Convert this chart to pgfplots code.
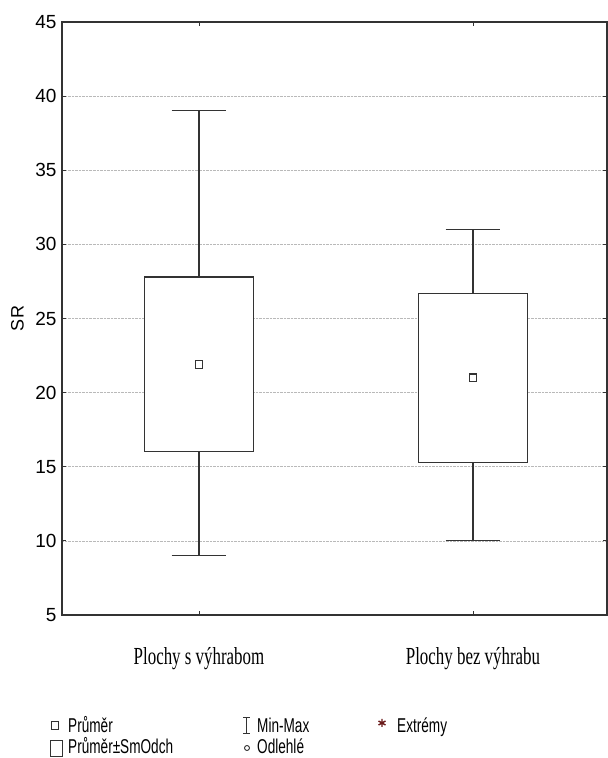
\documentclass[border=0pt]{standalone}
\usepackage{fontspec}
\setmainfont{Liberation Sans}
\newfontfamily\legfont[FakeStretch=0.68]{Liberation Sans}
\newfontfamily\catfont[FakeStretch=0.69]{Liberation Serif}
\usepackage{pgfplots}
\pgfplotsset{compat=1.18}
\definecolor{ln}{HTML}{333333}
\definecolor{ext}{HTML}{6A1A1A}
\begin{document}
\begin{tikzpicture}
\useasboundingbox (0,0) rectangle (608bp,758bp);
\begin{axis}[
  at={(62bp,143bp)}, anchor=south west,
  scale only axis, width=545bp, height=593bp,
  xmin=-0.5, xmax=1.489, ymin=5, ymax=45,
  ytick={5,10,...,45}, xtick={0,1},
  xticklabels={Plochy s výhrabom, Plochy bez výhrabu},
  tick align=inside, major tick length=4bp, tick pos=both,
  axis line style={ln, line width=1.2bp},
  every tick/.style={ln, line width=0.8bp},
  ymajorgrids, major grid style={densely dotted, gray!55, line width=0.6bp},
  /pgf/number format/assume math mode=true,
  yticklabel style={font=\fontsize{19bp}{22bp}\selectfont, xshift=-2bp},
  xticklabel style={font=\catfont\fontsize{24.5bp}{28bp}\selectfont, anchor=base, yshift=-50bp},
  ylabel={SR},
  ylabel style={font=\fontsize{18bp}{21bp}\selectfont, at={(axis description cs:-0.0817,0.5)}, anchor=center},
  wsk/.style={ln, solid, line width=1.1bp, mark=none},
]
% group 1: mean 21.9, mean-SD 16.0, mean+SD 27.8, min 9, max 39
\addplot[wsk, fill=white] coordinates {(-0.2,16.0) (0.2,16.0) (0.2,27.8) (-0.2,27.8)} -- cycle;
\addplot[wsk] coordinates {(0,27.8) (0,39)};
\addplot[wsk] coordinates {(-0.1,39) (0.1,39)};
\addplot[wsk] coordinates {(0,16.0) (0,9)};
\addplot[wsk] coordinates {(-0.1,9) (0.1,9)};
% group 2: mean 21.0, mean-SD 15.3, mean+SD 26.7, min 10, max 31
\addplot[wsk, fill=white] coordinates {(0.8,15.3) (1.2,15.3) (1.2,26.7) (0.8,26.7)} -- cycle;
\addplot[wsk] coordinates {(1,26.7) (1,31)};
\addplot[wsk] coordinates {(0.9,31) (1.1,31)};
\addplot[wsk] coordinates {(1,15.3) (1,10)};
\addplot[wsk] coordinates {(0.9,10) (1.1,10)};
% means
\addplot[only marks, mark=square, mark size=3.8bp, mark options={ln, solid, line width=1.1bp}] coordinates {(0,21.9) (1,21.0)};
\end{axis}
\begin{scope}[x=1bp,y=1bp, every node/.style={anchor=base west, inner sep=0pt, font=\legfont\fontsize{20bp}{23bp}\selectfont}]
\draw[ln, line width=0.9bp] (51.5,29) rectangle (58.5,37);
\node at (68,26) {Průměr};
\draw[ln, line width=0.9bp] (50,1.5) rectangle (62,18);
\node at (68,5) {Průměr±SmOdch};
\draw[ln, line width=0.9bp] (246.5,25)--(246.5,41) (243,25)--(250,25) (243,41)--(250,41);
\node at (257,26) {Min-Max};
\draw[ln, line width=0.9bp] (247,10) circle (2.5);
\node at (257,5) {Odlehlé};
\draw[ext, line width=1.4bp] (382,31)--(382,39) (378.5,33)--(385.5,37) (378.5,37)--(385.5,33);
\node at (397,26) {Extrémy};
\end{scope}
\end{tikzpicture}
\end{document}
